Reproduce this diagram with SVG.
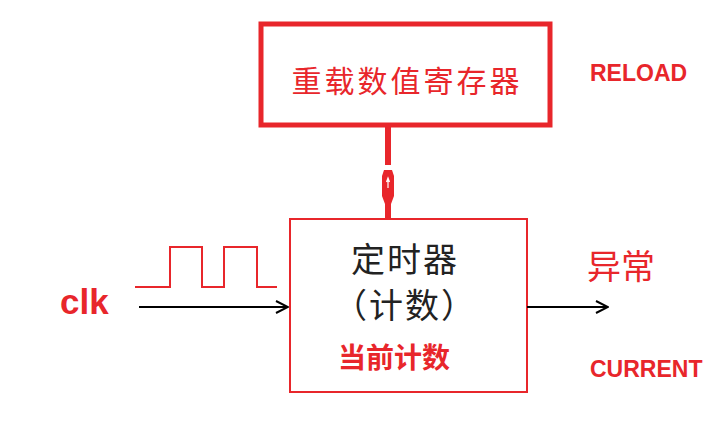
<svg xmlns="http://www.w3.org/2000/svg" width="725" height="429" viewBox="0 0 725 429">
<style>
.cn{font-family:"Noto Sans CJK SC","Noto Sans",sans-serif}
.lat{font-family:"Liberation Sans",Arial,sans-serif}
.red{fill:#e8262b}
</style>
<defs>
<marker id="ah" markerWidth="14" markerHeight="14" refX="13" refY="7" orient="auto" markerUnits="userSpaceOnUse">
<path d="M1,1 L13,7 L1,13" fill="none" stroke="#000" stroke-width="2"/>
</marker>
</defs>
<rect width="725" height="429" fill="#fff"/>
<g id="reload-reg">
<rect x="261" y="24" width="289" height="101" fill="#fff" stroke="#e8262b" stroke-width="5"/>
<text x="407" y="92" text-anchor="middle" class="cn red" font-size="30" letter-spacing="3">重载数值寄存器</text>
</g>
<g id="timer">
<rect x="290" y="219" width="237" height="173" fill="#fff" stroke="#e8262b" stroke-width="2"/>
<text x="405" y="272" text-anchor="middle" class="cn" font-size="34" fill="#222" letter-spacing="2">定时器</text>
<text x="405" y="318" text-anchor="middle" class="cn" font-size="34" fill="#222" letter-spacing="2">（计数）</text>
<text x="394" y="368" text-anchor="middle" class="cn red" font-size="28" font-weight="bold">当前计数</text>
</g>
<g id="labels">
<text x="590" y="81" class="lat red" font-size="23" font-weight="bold">RELOAD</text>
<text x="590" y="377" class="lat red" font-size="23" font-weight="bold">CURRENT</text>
<text x="587" y="279" class="cn red" font-size="34">异常</text>
<text x="60" y="314" class="lat red" font-size="35" font-weight="bold">clk</text>
</g>
<g id="connectors">
<path d="M388,127 V165" stroke="#e8262b" stroke-width="6" fill="none"/>
<path d="M384,170 L392,170 L394,176 L394,196 L391,204 L391,218 L385,218 L385,204 L382,196 L382,176 Z" fill="#e8262b"/>
<path d="M388,188 V180 M386.5,182 L388,178 L389.5,182" stroke="#fff" stroke-width="1.2" fill="none"/>
<path d="M135,287 H170 V247 H202 V287 H224 V247 H257 V287 H277" fill="none" stroke="#e8262b" stroke-width="2"/>
<path d="M139,307 H288" stroke="#000" stroke-width="2" marker-end="url(#ah)"/>
<path d="M527,307 H608" stroke="#000" stroke-width="2" marker-end="url(#ah)"/>
</g>
</svg>
